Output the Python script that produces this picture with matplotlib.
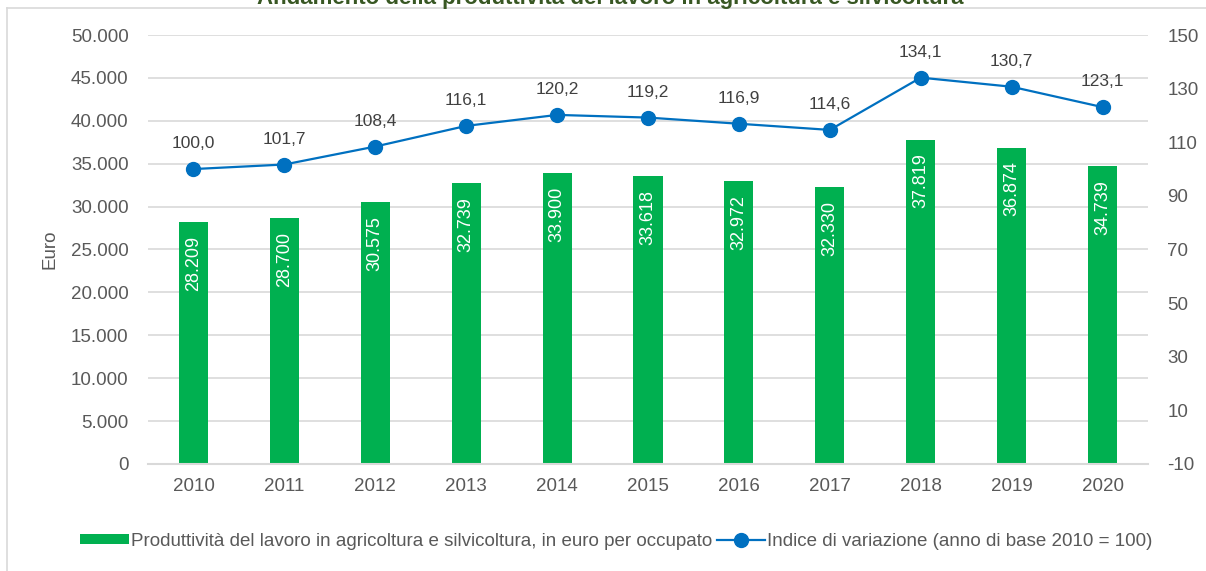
import matplotlib
matplotlib.use("Agg")
import matplotlib.pyplot as plt
from matplotlib.lines import Line2D

plt.rcParams['font.family'] = ['Liberation Sans', 'DejaVu Sans']
plt.rcParams['axes.unicode_minus'] = False

# data
years = ['2010', '2011', '2012', '2013', '2014', '2015', '2016', '2017', '2018', '2019', '2020']
produttivita = [28209, 28700, 30575, 32739, 33900, 33618, 32972, 32330, 37819, 36874, 34739]
indice = [100.0, 101.7, 108.4, 116.1, 120.2, 119.2, 116.9, 114.6, 134.1, 130.7, 123.1]

titolo = 'Andamento della produttività del lavoro in agricoltura e silvicoltura'
label_bar = 'Produttività del lavoro in agricoltura e silvicoltura, in euro per occupato'
label_line = 'Indice di variazione (anno di base 2010 = 100)'

GREEN = '#00B050'
BLUE = '#0070C0'
GREY_TXT = '#595959'
GRID = '#D9D9D9'

W, H = 1206, 571
fig = plt.figure(figsize=(W / 100, H / 100), dpi=100)
ax = fig.add_axes([148 / W, 1 - 464 / H, 1000 / W, 429 / H])

x = list(range(len(years)))
ax.bar(x, produttivita, width=0.32, color=GREEN, label=label_bar, zorder=2)

def fmt_it(v):
    return f'{v:,}'.replace(',', '.')

for xi, v in zip(x, produttivita):
    ax.annotate(fmt_it(v), (xi, v), xytext=(0, -14), textcoords='offset pixels',
                rotation=90, ha='center', va='top', color='white', fontsize=13, zorder=3)

ax.set_xlim(-0.5, len(years) - 0.5)
ax.set_ylim(0, 50000)
ax.set_yticks(range(0, 50001, 5000))
ax.set_yticklabels([fmt_it(v) for v in range(0, 50001, 5000)])
ax.set_xticks(x)
ax.set_xticklabels(years)
ax.grid(axis='y', color=GRID, linewidth=1.2, zorder=0)
ax.set_axisbelow(True)
for s in ['top', 'right', 'left']:
    ax.spines[s].set_visible(False)
ax.spines['bottom'].set_color(GRID)
ax.spines['bottom'].set_linewidth(1.5)
ax.tick_params(axis='both', length=0, labelsize=13.5, colors=GREY_TXT)
ax.tick_params(axis='y', pad=14)
ax.tick_params(axis='x', pad=10)
ax.set_ylabel('Euro', fontsize=13.5, color=GREY_TXT, labelpad=9)

ax2 = ax.twinx()
ax2.plot(x, indice, color=BLUE, linewidth=1.6, marker='o', markersize=10, label=label_line)
for xi, v in zip(x, indice):
    ax2.annotate(f'{v:.1f}'.replace('.', ','), (xi, v), xytext=(0, 21), textcoords='offset pixels',
                 ha='center', va='baseline', color='#404040', fontsize=12.5)
ax2.set_ylim(-10, 150)
ax2.set_yticks(range(-10, 151, 20))
for s in ax2.spines.values():
    s.set_visible(False)
ax2.tick_params(axis='y', length=0, labelsize=13.5, colors=GREY_TXT, pad=14)

h1, l1 = ax.get_legend_handles_labels()
h2, l2 = ax2.get_legend_handles_labels()
leg = fig.legend(h1 + h2, l1 + l2, loc='center', bbox_to_anchor=(0.511, 1 - 541 / H), ncol=2,
                 frameon=False, fontsize=13.5, handlelength=2.6, handleheight=0.5,
                 handletextpad=0.1, columnspacing=0.25)
for t in leg.get_texts():
    t.set_color(GREY_TXT)

# title is cut by the top edge in the reference, and the chart frame
fig.text(0.506, 1 - 4 / H, titolo, ha='center', va='baseline', fontsize=16,
         fontweight='bold', color='#385723')
fig.add_artist(Line2D([7 / W, 1], [1 - 8 / H, 1 - 8 / H], color=GRID, linewidth=1.2))
fig.add_artist(Line2D([7 / W, 7 / W], [0, 1 - 8 / H], color=GRID, linewidth=1.2))

fig.savefig('out.png', dpi=100)
